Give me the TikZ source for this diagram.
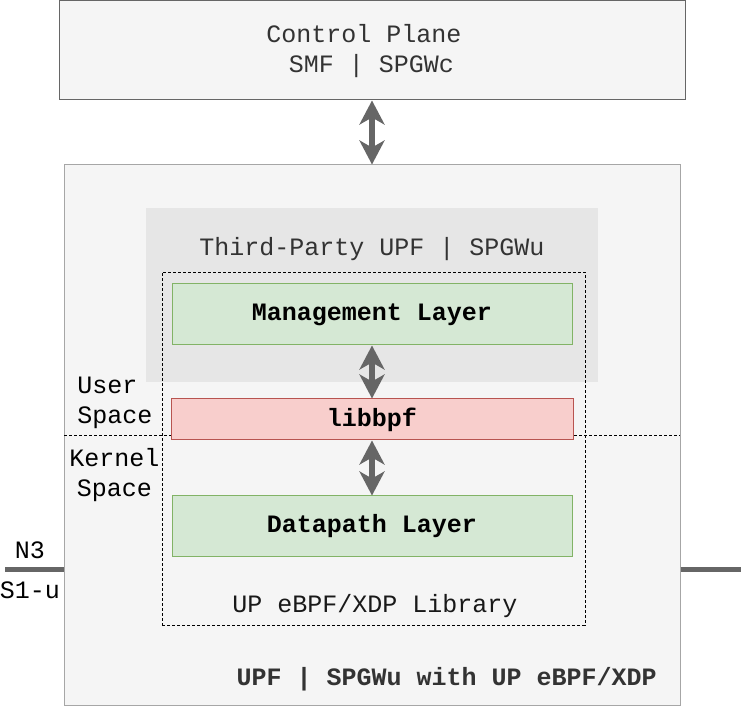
\documentclass[tikz,border=0pt]{standalone}
\usepackage{fontspec}
\setmonofont{Liberation Mono}
\usetikzlibrary{arrows.meta,positioning,calc}
\definecolor{planefill}{HTML}{F5F5F5}
\definecolor{planedraw}{HTML}{666666}
\definecolor{hostdraw}{HTML}{A6A6A6}
\definecolor{thirdfill}{HTML}{E6E6E6}
\definecolor{layerfill}{HTML}{D5E8D4}
\definecolor{layerdraw}{HTML}{82B366}
\definecolor{libfill}{HTML}{F8CECC}
\definecolor{libdraw}{HTML}{B85450}
\definecolor{arrowgray}{HTML}{666666}
\definecolor{textgray}{HTML}{333333}
\newcommand{\diagfont}{\ttfamily\fontsize{12.5pt}{15pt}\selectfont}
\tikzset{
  planebox/.style={rectangle, draw=planedraw, fill=planefill, line width=0.5pt,
    minimum width=313pt, minimum height=49.5pt},
  hostbox/.style={rectangle, draw=hostdraw, fill=planefill, line width=0.5pt,
    minimum width=308pt, minimum height=270pt},
  thirdbg/.style={rectangle, draw=none, fill=thirdfill,
    minimum width=226pt, minimum height=87pt},
  libframe/.style={rectangle, draw=black, line width=0.4pt,
    dash pattern=on 1.5pt off 1pt, minimum width=211.5pt, minimum height=176.5pt},
  layerbox/.style={rectangle, draw=layerdraw, fill=layerfill, line width=0.5pt,
    minimum width=200pt, minimum height=30.5pt, font=\diagfont\bfseries},
  libbox/.style={rectangle, draw=libdraw, fill=libfill, line width=0.5pt,
    minimum width=201pt, minimum height=20.5pt, font=\diagfont\bfseries},
  caption/.style={align=center, font=\diagfont, text=textgray, inner sep=0pt},
  sidetext/.style={align=center, font=\diagfont, text=black, inner sep=0pt},
  duplex/.style={{Stealth[length=12pt,width=12.5pt,inset=3.5pt]}-{Stealth[length=12pt,width=12.5pt,inset=3.5pt]},
    line width=3pt, draw=arrowgray},
  linkline/.style={line width=2.5pt, draw=arrowgray},
  spaceline/.style={line width=0.4pt, dash pattern=on 1.5pt off 1pt}
}
\begin{document}
\begin{tikzpicture}[x=0.5pt,y=-0.5pt]
  \useasboundingbox (0,0) rectangle (746,706);

  % --- control plane ---
  \node[planebox] (ctrl) at (372,50.5) {};
  \node[caption] (ctrltext) at (364,51) {Control Plane\\~SMF | SPGWc};

  % --- user plane host ---
  \node[hostbox] (upf) at (372,435) {};
  \node[thirdbg] (third) at (372,295) {};
  \node[caption] (thirdtext) at (372,249) {Third-Party UPF | SPGWu};

  % --- user/kernel divider ---
  \coordinate (divL) at (64,435);
  \coordinate (divR) at (680,435);
  \draw[spaceline] (divL) -- (divR);

  % --- eBPF/XDP library ---
  \node[libframe] (libframe) at (373.5,448.5) {};
  \node[layerbox] (mgmt) at (372,314.5) {Management Layer};
  \node[libbox] (libbpf) at (372,419.5) {libbpf};
  \node[layerbox] (datapath) at (372,526.5) {Datapath Layer};
  \node[sidetext, text=black!90] (libtext) at (375,606) {UP eBPF/XDP Library};

  \node[sidetext, align=left, anchor=west] (user) at (77,403) {User\\Space};
  \node[sidetext] (kernel) at (114.5,475) {Kernel\\Space};

  \node[caption, anchor=east, font=\diagfont\bfseries] (upftext) at (657,679)
       {UPF | SPGWu with UP eBPF/XDP};

  % --- interfaces ---
  \coordinate (n3end) at (5,570);
  \coordinate (n3out) at (741,570);
  \draw[linkline] (n3end) -- (upf.west |- n3end);
  \draw[linkline] (upf.east |- n3out) -- (n3out);
  \node[sidetext] (n3) at (30,550) {N3};
  \node[sidetext] (s1u) at (30,590) {S1-u};

  % ---------------- edges ----------------
  \draw[duplex] (ctrl.south) -- (upf.north);
  \draw[duplex] (mgmt.south) -- (libbpf.north);
  \draw[duplex] (libbpf.south) -- (datapath.north);

\end{tikzpicture}
\end{document}
